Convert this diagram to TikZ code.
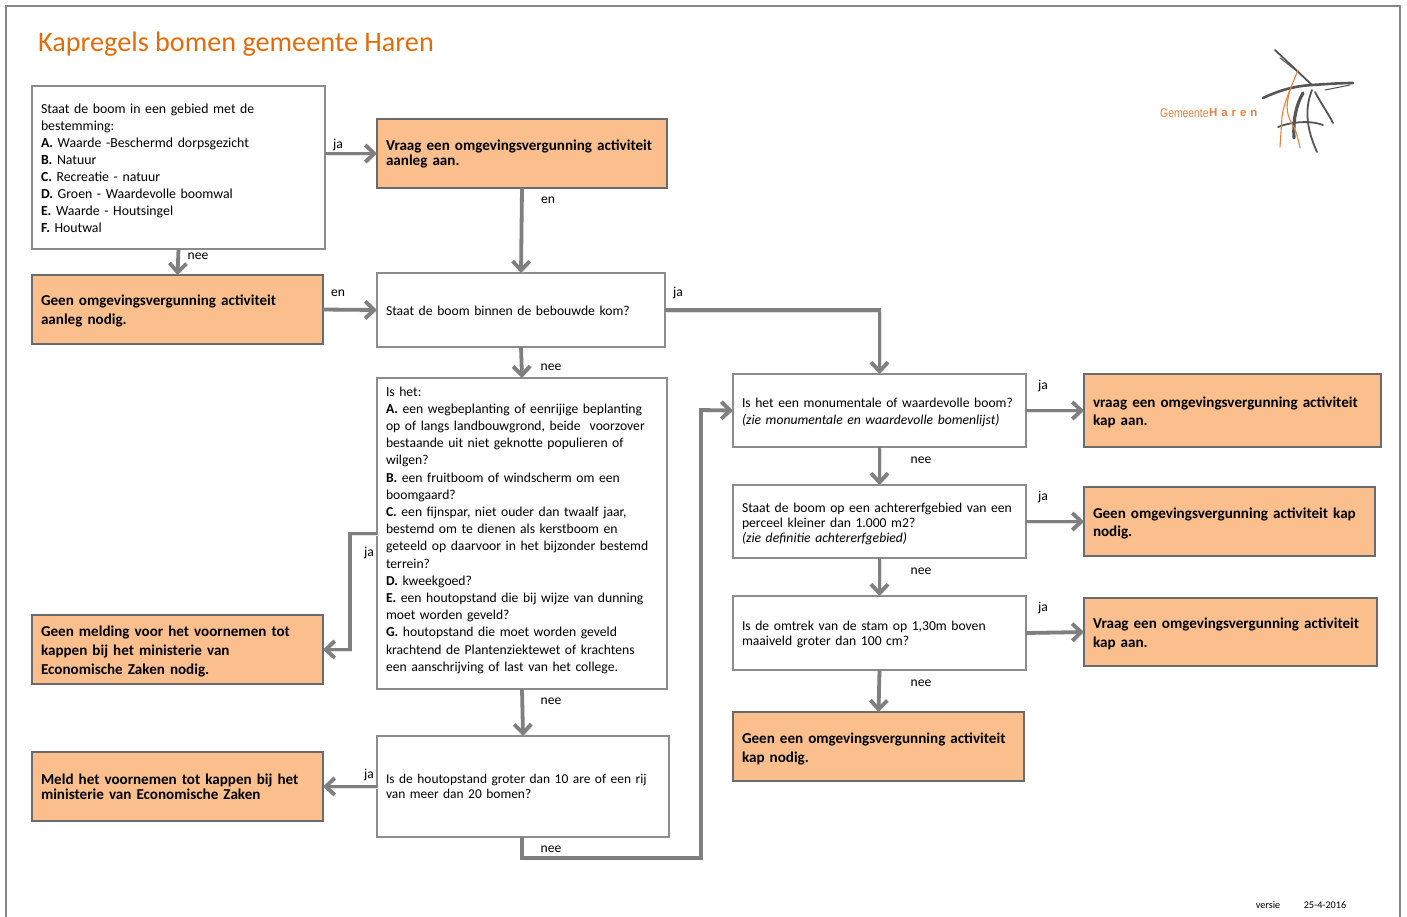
\documentclass[tikz,border=0pt]{standalone}
\usepackage{fontspec}
\setmainfont{Carlito}
\newfontfamily\logofont{Liberation Sans}
\usetikzlibrary{calc,arrows.meta}

\definecolor{framegray}{HTML}{868686}
\definecolor{boxgray}{HTML}{8C8C8C}
\definecolor{darkgray}{HTML}{6B6B6B}
\definecolor{flowgray}{HTML}{7F7F7F}
\definecolor{shadowgray}{HTML}{E2E2E2}
\definecolor{boxorange}{HTML}{FBBF8D}
\definecolor{titleorange}{HTML}{E36C0A}
\definecolor{logogray}{HTML}{555555}
\definecolor{logoorange}{HTML}{EE7F3A}

\tikzset{
    >={Straight Barb[length=9pt,width=17pt,line width=3.8pt]},
    size/.style 2 args={text width=#1pt-18pt,minimum height=#2pt},
    leading/.style={font=\fontsize{13.65}{#1}\selectfont},
    boldleading/.style={font=\fontsize{15.1}{#1}\selectfont\bfseries},
    drop/.style={execute at begin node={\rule{0pt}{#1pt}}},
    whitebox/.style={draw=boxgray,fill=white,line width=2pt,anchor=north west,
        align=left,inner xsep=9pt,inner ysep=0pt,outer sep=0pt,leading=17},
    orangebox/.style={whitebox,draw=darkgray,fill=boxorange,boldleading=15},
    flow/.style={draw=flowgray,line width=3.8pt,->,
        preaction={draw=shadowgray,transform canvas={xshift=1.5pt,yshift=-2pt}}},
    answer/.style={font=\fontsize{13.6}{15}\selectfont,inner sep=0pt},
    footnote/.style={font=\fontsize{10.2}{11}\selectfont,inner sep=0pt},
    logotree/.style={draw=logogray,line width=1.8pt,line cap=round},
    logotwig/.style={draw=logoorange,line width=1.1pt,line cap=round}
}

\begin{document}
\begin{tikzpicture}[x=1pt,y=-1pt]
    \useasboundingbox (0,0) rectangle (1407,916);
    \clip (0,0) rectangle (1407,916);
    \draw [framegray,line width=2.6pt] (6,6) rectangle (1400,930);

    \node [anchor=west,inner sep=0pt,text=titleorange,font=\fontsize{28.2}{30}\selectfont]
        (title) at (38,44) {Kapregels bomen gemeente Haren};

    % logo
    \node [anchor=west,inner sep=0pt,text=logoorange,xscale=.83,
        font=\logofont\fontsize{12.5}{14}\selectfont] (logoname) at (1160,113) {Gemeente};
    \node [anchor=west,inner sep=0pt,text=logoorange,
        font=\logofont\bfseries\addfontfeature{LetterSpace=34}\fontsize{11.5}{14}\selectfont]
        (logoplace) at (1209,113) {Haren};
    \draw [logotree] (1275,50) -- (1312,85);
    \draw [logotree,line width=1pt] (1280,58) -- (1298,72);
    \draw [logotree,line width=2.6pt] (1263,98) .. controls (1280,90) and (1295,86) .. (1312,85)
        .. controls (1328,84) and (1340,83) .. (1353,83);
    \draw [logotree,line width=1pt] (1325,90) -- (1350,85);
    \draw [logotree,line width=3.2pt] (1303,93) .. controls (1296,105) and (1293,120) .. (1294,138);
    \draw [logotree] (1312,90) .. controls (1304,110) and (1307,130) .. (1317,152);
    \draw [logotree] (1315,92) .. controls (1322,105) and (1328,113) .. (1333,123);
    \draw [logotree] (1278,127) .. controls (1290,122) and (1310,120) .. (1323,125);
    \draw [logotwig] (1298,70) .. controls (1292,85) and (1283,105) .. (1282,117) -- (1280,147);
    \draw [logotwig] (1290,90) .. controls (1286,105) and (1286,112) .. (1291,122)
        .. controls (1296,130) and (1298,138) .. (1300,148);

    % left column
    \node [whitebox,size={293}{163},font=\fontsize{13.8}{17}\selectfont,drop=12] (gebied) at (32,86)
        {Staat de boom in een gebied met de\\
        bestemming:\\
        \textbf{A.} Waarde -Beschermd dorpsgezicht\\
        \textbf{B.} Natuur\\
        \textbf{C.} Recreatie - natuur\\
        \textbf{D.} Groen - Waardevolle boomwal\\
        \textbf{E.} Waarde - Houtsingel\\
        \textbf{F.} Houtwal};
    \node [orangebox,size={291}{69},boldleading=19,drop=13] (geenaanleg) at (32,275)
        {Geen omgevingsvergunning activiteit\\aanleg nodig.};
    \node [orangebox,size={291}{69},boldleading=19,drop=15] (geenmelding) at (32,615)
        {Geen melding voor het voornemen tot\\kappen bij het ministerie van\\Economische Zaken nodig.};
    \node [orangebox,size={291}{69}] (meld) at (32,752)
        {Meld het voornemen tot kappen bij het\\ministerie van Economische Zaken};

    % middle column
    \node [orangebox,size={290}{69}] (vraagaanleg) at (377,119)
        {Vraag een omgevingsvergunning activiteit\\aanleg aan.};
    \node [whitebox,size={288}{74},drop=12] (bebouwd) at (377,273) {Staat de boom binnen de bebouwde kom?};
    \node [whitebox,size={290}{311},leading=17.2] (ishet) at (377,378) {Is het:\\
        \textbf{A.} een wegbeplanting of eenrijige beplanting\\
        op of langs landbouwgrond, beide\ \ voorzover\\
        bestaande uit niet geknotte populieren of\\
        wilgen?\\
        \textbf{B.} een fruitboom of windscherm om een\\
        boomgaard?\\
        \textbf{C.} een fijnspar, niet ouder dan twaalf jaar,\\
        bestemd om te dienen als kerstboom en\\
        geteeld op daarvoor in het bijzonder bestemd\\
        terrein?\\
        \textbf{D.} kweekgoed?\\
        \textbf{E.} een houtopstand die bij wijze van dunning\\
        moet worden geveld?\\
        \textbf{G.} houtopstand die moet worden geveld\\
        krachtend de Plantenziektewet of krachtens\\
        een aanschrijving of last van het college.\rule[-9pt]{0pt}{9pt}};
    \node [whitebox,size={292}{101},font=\fontsize{13.45}{15}\selectfont] (houtopstand) at (377,736)
        {Is de houtopstand groter dan 10 are of een rij\\van meer dan 20 bomen?};

    % right columns
    \node [whitebox,size={293}{73},drop=14] (monument) at (733,374)
        {Is het een monumentale of waardevolle boom?\\
        \textit{(zie monumentale en waardevolle bomenlijst)}};
    \node [whitebox,size={293}{73},leading=15,drop=14] (achtererf) at (733,485)
        {Staat de boom op een achtererfgebied van een\\perceel kleiner dan 1.000 m2?\\
        \textit{(zie definitie achtererfgebied)}};
    \node [whitebox,size={293}{74},leading=15,drop=12] (omtrek) at (733,596)
        {Is de omtrek van de stam op 1,30m boven\\maaiveld groter dan 100 cm?};
    \node [orangebox,size={291}{69},boldleading=19,drop=15] (geenkap) at (733,712)
        {Geen een omgevingsvergunning activiteit\\kap nodig.};
    \node [orangebox,size={297}{73},boldleading=18,drop=15] (vraagkap) at (1084,374)
        {vraag een omgevingsvergunning activiteit\\kap aan.};
    \node [orangebox,size={291}{69},boldleading=18,drop=15] (geenkaptwee) at (1084,487)
        {Geen omgevingsvergunning activiteit kap\\nodig.};
    \node [orangebox,size={293}{68},boldleading=19,drop=15] (vraagkaptwee) at (1084,598)
        {Vraag een omgevingsvergunning activiteit\\kap aan.};

    % bends
    \coordinate (bendja) at (350,533);
    \coordinate (bendneeA) at (522,858);
    \coordinate (bendneeB) at (701,858);
    \coordinate (bendneeC) at (701,410);

    % connectors
    \draw [flow] (gebied.east |- vraagaanleg.west) -- (vraagaanleg.west);
    \draw [flow] (gebied.south) -- (geenaanleg.north);
    \draw [flow] (vraagaanleg.south) -- (bebouwd.north);
    \draw [flow] (geenaanleg.east) -- (bebouwd.west);
    \draw [flow] (bebouwd.east) -| (monument.north);
    \draw [flow] (bebouwd.south) -- (ishet.north);
    \draw [flow] (ishet.west) -- (ishet.west -| bendja) |- (geenmelding.east);
    \draw [flow] (ishet.south) -- (houtopstand.north);
    \draw [flow] (houtopstand.west) -- (meld.east);
    \draw [flow] (houtopstand.south -| bendneeA) -- (bendneeA) -- (bendneeB)
        -- (bendneeC) -- (monument.west);
    \draw [flow] (monument.south) -- (achtererf.north);
    \draw [flow] (achtererf.south) -- (omtrek.north);
    \draw [flow] (omtrek.south) -- (geenkap.north);
    \draw [flow] (monument.east) -- (vraagkap.west);
    \draw [flow] (achtererf.east) -- (geenkaptwee.west);
    \draw [flow] (omtrek.east) -- (vraagkaptwee.west);

    % answers
    \node [answer] (ja1) at (338,145) {ja};
    \node [answer] (nee1) at (198,256) {nee};
    \node [answer] (en1) at (548,200) {en};
    \node [answer] (en2) at (338,293) {en};
    \node [answer] (ja2) at (678,293) {ja};
    \node [answer] (nee2) at (551,367) {nee};
    \node [answer] (ja3) at (369,553) {ja};
    \node [answer] (nee3) at (551,701) {nee};
    \node [answer] (ja4) at (369,775) {ja};
    \node [answer] (nee4) at (551,849) {nee};
    \node [answer] (ja5) at (1043,386) {ja};
    \node [answer] (nee5) at (921,460) {nee};
    \node [answer] (ja6) at (1043,497) {ja};
    \node [answer] (nee6) at (921,571) {nee};
    \node [answer] (ja7) at (1043,608) {ja};
    \node [answer] (nee7) at (921,683) {nee};

    \node [footnote] (versie) at (1268,905) {versie};
    \node [footnote] (datum) at (1325,905) {25-4-2016};
\end{tikzpicture}
\end{document}
